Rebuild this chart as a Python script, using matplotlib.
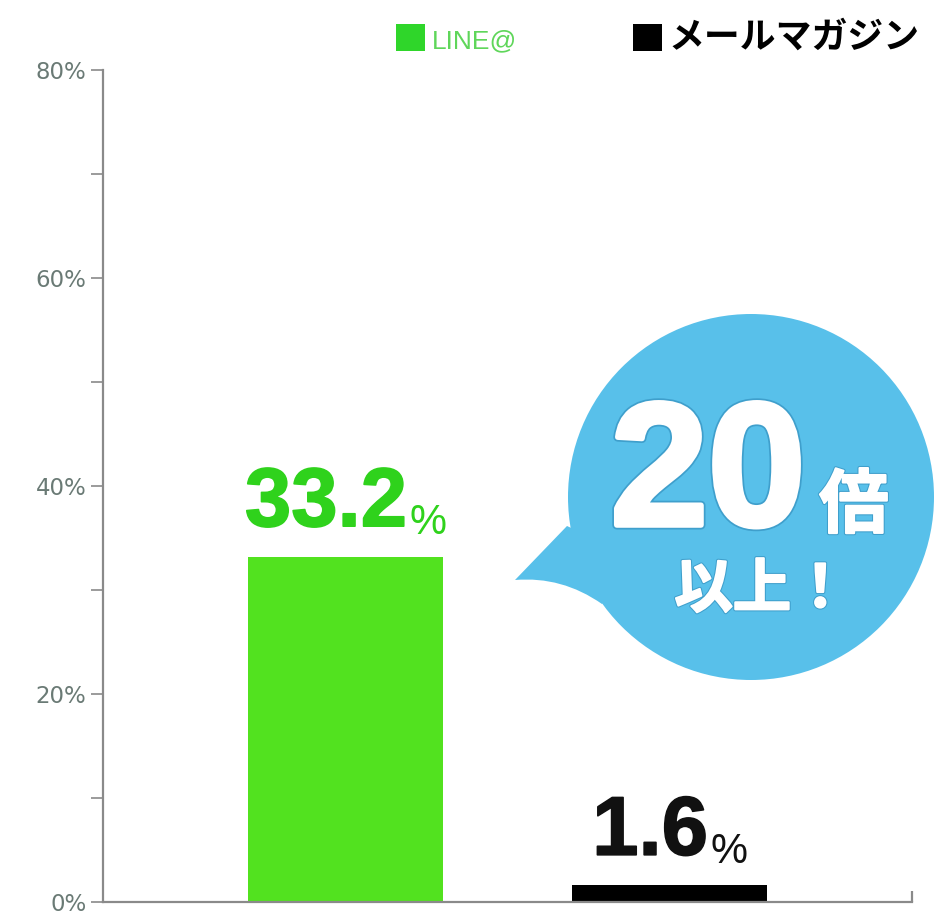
import matplotlib

matplotlib.use("Agg")
import matplotlib.pyplot as plt
import matplotlib.patheffects as pe
from matplotlib.patches import Circle, PathPatch, Patch
from matplotlib.path import Path

plt.rcParams["font.family"] = ["Liberation Sans", "Noto Sans CJK JP", "DejaVu Sans"]

# data
series = ["LINE@", "メールマガジン"]
values = [33.2, 1.6]
value_labels = ["33.2", "1.6"]
yticks = [0, 20, 40, 60, 80]
ytick_labels = ["0%", "20%", "40%", "60%", "80%"]
callout_big = "20"
callout_unit = "倍"
callout_tail = "以上！"

bar_colors = ["#52e21f", "#000000"]
label_colors = ["#2fd21c", "#111111"]
axis_color = "#8a8a8a"
bubble_color = "#58c0ea"

W, H = 941, 917
fig = plt.figure(figsize=(W / 100, H / 100), dpi=100)
ax = fig.add_axes([103 / W, (H - 902) / H, (912 - 103) / W, (902 - 70) / H])

x = [0, 1]
ax.bar(x, values, width=0.6, color=bar_colors, zorder=2)
ax.set_xlim(-0.748, 1.748)
ax.set_ylim(0, 80)

for s in ["top", "right"]:
    ax.spines[s].set_visible(False)
for s in ["left", "bottom"]:
    ax.spines[s].set_color(axis_color)
    ax.spines[s].set_linewidth(1.6)

ax.set_yticks(yticks)
ax.set_yticklabels(ytick_labels, family="DejaVu Sans", fontsize=16.5, color="#6a7a75")
ax.set_yticks(range(10, 80, 20), minor=True)
ax.tick_params(axis="y", which="both", direction="out", length=9, width=1.2,
               color=axis_color, pad=3)
# small closing tick at the right end of the x axis
ax.set_xticks([1.748])
ax.set_xticklabels([""])
ax.tick_params(axis="x", direction="in", length=8, width=1.6, color=axis_color)

# value labels
for xi, v, lab, c in zip(x, values, value_labels, label_colors):
    t = ax.annotate(lab, xy=(xi, v), xytext=(-14, 22), textcoords="offset points",
                    ha="center", va="baseline", fontsize=60, fontweight="bold", color=c,
                    path_effects=[pe.withStroke(linewidth=1.2, foreground=c)])
    ax.annotate("%", xy=(1, 0), xycoords=t, xytext=(2, 0), textcoords="offset points",
                ha="left", va="bottom", fontsize=30, color=c)

# legend
handles = [Patch(facecolor=bar_colors[0]), Patch(facecolor=bar_colors[1])]
leg = fig.legend(handles, series, loc="upper right", bbox_to_anchor=(920 / W, 1 - 21 / H),
                 ncol=2, frameon=False, fontsize=22, handlelength=0.95, handleheight=0.95,
                 handletextpad=0.22, columnspacing=3.8, borderpad=0, borderaxespad=0)
leg.get_patches()[0].set_facecolor("#2fd62a")
leg.get_texts()[0].set_color("#5fd65a")
leg.get_texts()[0].set_fontsize(19)
leg.get_texts()[1].set_fontweight("bold")
leg.get_texts()[1].set_fontsize(25.8)

# speech bubble overlay
ov = fig.add_axes([0, 0, 1, 1], zorder=5)
ov.set_xlim(0, W)
ov.set_ylim(H, 0)
ov.axis("off")
ov.patch.set_alpha(0)

cx, cy, r = 751, 497, 183
ov.add_patch(Circle((cx, cy), r, facecolor=bubble_color, edgecolor="none"))
tail = Path([(567, 526), (515, 580), (562, 576), (602, 604), (640, 560), (567, 526)],
            [Path.MOVETO, Path.LINETO, Path.CURVE3, Path.CURVE3,
             Path.LINETO, Path.CLOSEPOLY])
ov.add_patch(PathPatch(tail, facecolor=bubble_color, edgecolor="none"))

heavy = [pe.Stroke(linewidth=6.5, foreground="#3f9fcc"),
         pe.Stroke(linewidth=4, foreground="white"), pe.Normal()]
ov.text(708, 525, callout_big, ha="center", va="baseline", fontsize=126,
        fontweight="bold", color="white", path_effects=heavy)
thin = [pe.Stroke(linewidth=3, foreground="#3f9fcc"),
        pe.Stroke(linewidth=1.5, foreground="white"), pe.Normal()]
ov.text(854, 527, callout_unit, ha="center", va="baseline", fontsize=50,
        fontweight="bold", color="white", family="Noto Sans CJK JP", path_effects=thin)
ov.text(762, 590, callout_tail, ha="center", va="center", fontsize=42,
        fontweight="bold", color="white", family="Noto Sans CJK JP", path_effects=thin)

plt.savefig("out.png", dpi=100)
